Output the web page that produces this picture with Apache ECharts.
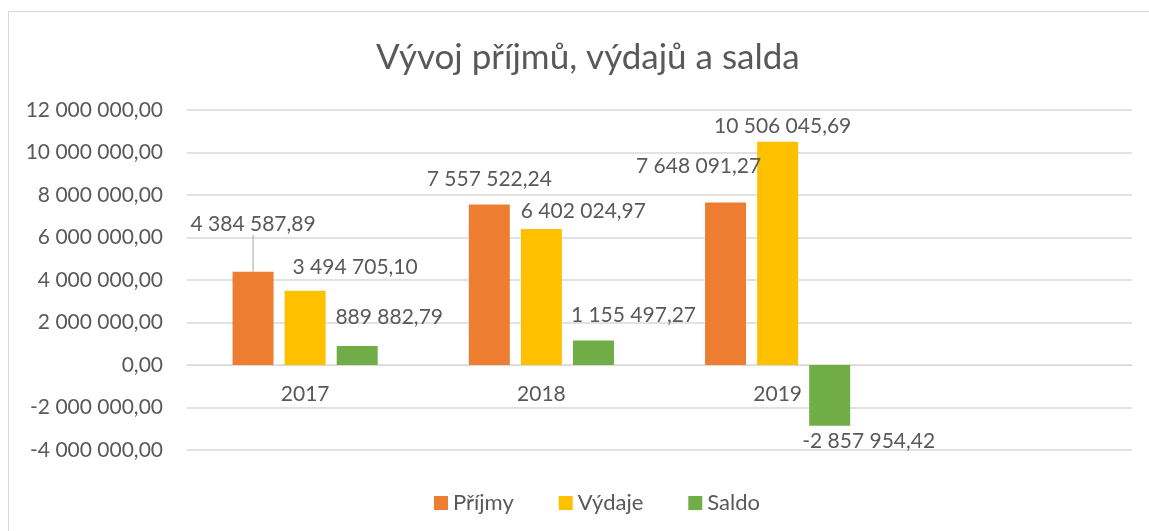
<!DOCTYPE html>
<html>
<head>
<meta charset="utf-8">
<script src="https://cdn.jsdelivr.net/npm/echarts@6/dist/echarts.min.js"></script>
<style>
  html, body { margin: 0; padding: 0; background: #fff; overflow: hidden; }
  #chart { width: 1149px; height: 531px; }
  #frame { position: absolute; left: 8px; top: 11px; width: 1300px; height: 700px;
           border: 1px solid #D9D9D9; pointer-events: none; }
</style>
</head>
<body>
<div id="chart"></div>
<div id="frame"></div>
<script>
const years = ['2017', '2018', '2019', '']
const prijmy = [4384587.89, 7557522.24, 7648091.27]
const vydaje = [3494705.10, 6402024.97, 10506045.69]
const saldo = [889882.79, 1155497.27, -2857954.42]
const yTicks = [-4000000, -2000000, 0, 2000000, 4000000, 6000000, 8000000, 10000000, 12000000]

// Excel had moved some data labels by hand, keep the shifts here
const labelShift = [
  [[0, -32], [0, -10], [-27, -21]],
  [[50, -8], [42, -2], [5, 0]],
  [[32, -13], [40, -10], [39, 0]]
]

const txt = '#595959'
const font = 'Lato'

const fmt = v => {
  const neg = v < 0
  const parts = Math.abs(v).toFixed(2).split('.')
  const int = parts[0].replace(/\B(?=(\d{3})+(?!\d))/g, ' ')
  return (neg ? '-' : '') + int + ',' + parts[1]
}

const mkSeries = (name, values, color, idx) => ({
  name, type: 'bar',
  barWidth: 41,
  barGap: '27%',
  itemStyle: { color },
  data: values.map((v, i) => ({
    value: v,
    label: { position: v < 0 ? 'bottom' : 'top' },
    labelLine: { show: idx === 0 && i === 0 }
  })),
  label: {
    show: true, distance: 5,
    color: txt, fontFamily: font, fontSize: 21,
    formatter: p => fmt(p.value)
  },
  labelLine: { lineStyle: { color: '#A6A6A6', width: 1 } },
  labelLayout: p => ({ dx: labelShift[idx][p.dataIndex][0], dy: labelShift[idx][p.dataIndex][1] })
})

const chart = echarts.init(document.getElementById('chart'))
chart.setOption({
  animation: false,
  title: {
    text: 'Vývoj příjmů, výdajů a salda',
    left: 371, top: 35,
    textStyle: { color: txt, fontFamily: font, fontSize: 35, fontWeight: 'normal' }
  },
  legend: {
    left: 429, top: 487,
    icon: 'rect', itemWidth: 14, itemHeight: 14, itemGap: 45,
    textStyle: { color: txt, fontFamily: font, fontSize: 22 },
    data: ['Příjmy', 'Výdaje', 'Saldo']
  },
  grid: { left: 187, right: 17, top: 110, bottom: 81 },
  xAxis: {
    type: 'category',
    data: years,
    axisLine: { onZero: false, lineStyle: { color: '#D9D9D9' } },
    axisTick: { show: false },
    axisLabel: { color: txt, fontFamily: font, fontSize: 21, margin: 19 }
  },
  yAxis: {
    type: 'value',
    min: yTicks[0], max: yTicks[yTicks.length - 1], interval: 2000000,
    axisLine: { show: false },
    axisTick: { show: false },
    splitLine: { lineStyle: { color: '#D9D9D9', width: 1.5 } },
    axisLabel: { color: txt, fontFamily: font, fontSize: 21, margin: 24, formatter: v => fmt(v) }
  },
  series: [
    mkSeries('Příjmy', prijmy, '#ED7D31', 0),
    mkSeries('Výdaje', vydaje, '#FFC000', 1),
    mkSeries('Saldo', saldo, '#70AD47', 2)
  ]
})

// put the category axis (and its labels) on the zero line
const zeroY = chart.convertToPixel({ yAxisIndex: 0 }, 0)
const bottomY = chart.convertToPixel({ yAxisIndex: 0 }, yTicks[0])
chart.setOption({ xAxis: { offset: zeroY - bottomY } })
</script>
</body>
</html>
